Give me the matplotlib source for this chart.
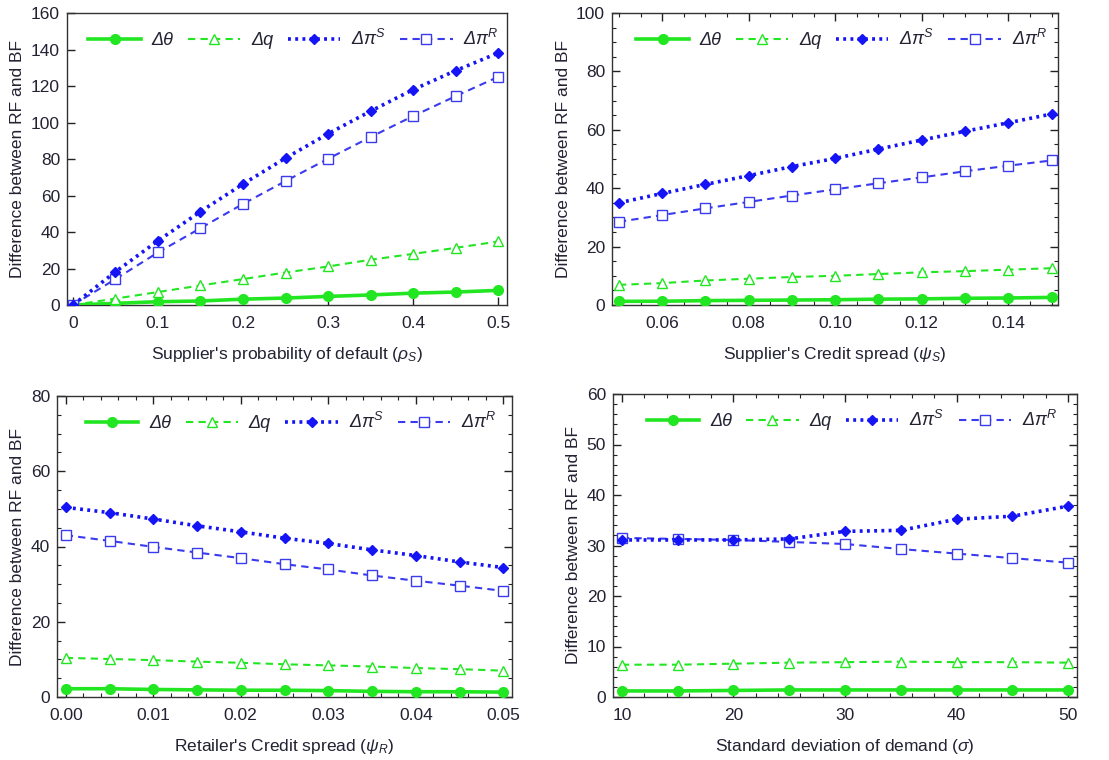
import matplotlib
matplotlib.use('Agg')
import matplotlib.pyplot as plt
from matplotlib.ticker import MultipleLocator, FormatStrFormatter
import numpy as np

plt.rcParams['font.family'] = ['Liberation Sans', 'DejaVu Sans']
plt.rcParams['mathtext.fontset'] = 'custom'
plt.rcParams['mathtext.rm'] = 'Liberation Sans'
plt.rcParams['mathtext.it'] = 'Liberation Sans:italic'
plt.rcParams['mathtext.bf'] = 'Liberation Sans:bold'

# Data
rho_s = [0, 0.05, 0.1, 0.15, 0.2, 0.25, 0.3, 0.35, 0.4, 0.45, 0.5]
p1_theta = [0, 0.9, 1.8, 2.2, 3.2, 3.8, 4.7, 5.5, 6.5, 7.1, 8.0]
p1_q = [0, 3.5, 7.1, 10.7, 14.2, 17.8, 21.1, 24.8, 28.0, 31.3, 34.8]
p1_pis = [0, 18.2, 35.2, 51.2, 66.3, 80.5, 93.8, 106.2, 118.0, 128.4, 138.1]
p1_pir = [0, 14.2, 28.8, 42.1, 55.4, 67.9, 80.1, 92.0, 103.5, 114.4, 125.0]

psi_s = [0.05, 0.06, 0.07, 0.08, 0.09, 0.10, 0.11, 0.12, 0.13, 0.14, 0.15]
p2_theta = [1.25, 1.3, 1.5, 1.6, 1.7, 1.8, 2.0, 2.1, 2.3, 2.4, 2.6]
p2_q = [6.9, 7.5, 8.4, 9.0, 9.6, 10.0, 10.6, 11.2, 11.6, 12.1, 12.6]
p2_pis = [35.0, 38.2, 41.3, 44.3, 47.4, 50.2, 53.4, 56.5, 59.5, 62.4, 65.4]
p2_pir = [28.5, 30.8, 33.1, 35.3, 37.5, 39.6, 41.7, 43.7, 45.8, 47.7, 49.5]

psi_r = [0, 0.005, 0.01, 0.015, 0.02, 0.025, 0.03, 0.035, 0.04, 0.045, 0.05]
p3_theta = [2.2, 2.2, 2.0, 1.9, 1.8, 1.8, 1.7, 1.5, 1.4, 1.4, 1.3]
p3_q = [10.4, 10.1, 9.8, 9.4, 9.1, 8.7, 8.4, 8.1, 7.7, 7.4, 7.0]
p3_pis = [50.4, 49.0, 47.3, 45.5, 43.9, 42.2, 40.8, 39.1, 37.6, 35.9, 34.4]
p3_pir = [43.0, 41.5, 39.9, 38.4, 36.9, 35.3, 33.9, 32.3, 30.9, 29.6, 28.2]

sigma = [10, 15, 20, 25, 30, 35, 40, 45, 50]
p4_theta = [1.2, 1.2, 1.3, 1.4, 1.4, 1.4, 1.4, 1.4, 1.4]
p4_q = [6.4, 6.4, 6.6, 6.8, 6.9, 7.0, 6.9, 6.9, 6.8]
p4_pis = [31.1, 31.1, 31.1, 31.3, 32.8, 33.0, 35.2, 35.8, 37.8]
p4_pir = [31.5, 31.3, 31.1, 30.7, 30.3, 29.3, 28.4, 27.5, 26.6]

# plain text part is set italic through the legend font; superscripts via mathtext
labels = ['Δθ', 'Δq', r'Δπ$^{\mathit{S}}$', r'Δπ$^{\mathit{R}}$']

green = '#22e622'
blue_s = '#1414f5'
blue_r = '#3a3aee'
text_col = '#222233'

W, H = 1109, 760


def px_axes(fig, l, t, r, b):
    return fig.add_axes([l / W, 1 - b / H, (r - l) / W, (b - t) / H])


def draw_panel(ax, x, theta, q, pis, pir):
    ax.plot(x, theta, color=green, lw=2.6, marker='o', ms=7, label=labels[0], zorder=3)
    ax.plot(x, q, color=green, lw=1.5, dashes=(3.5, 2.5), marker='^', ms=7,
            mfc='white', mec=green, mew=1.0, label=labels[1], zorder=3)
    ax.plot(x, pis, color=blue_s, lw=2.6, linestyle=(0, (0.8, 1.2)), marker='D', ms=5.5,
            label=labels[2], zorder=4)
    ax.plot(x, pir, color=blue_r, lw=1.5, dashes=(3.5, 2.5), marker='s', ms=6.5,
            mfc='white', mec=blue_r, mew=1.0, label=labels[3], zorder=3)
    ax.legend(loc='upper center', bbox_to_anchor=(0.515, 1.0), ncol=4, frameon=False,
              prop={'size': 13, 'style': 'italic'}, handlelength=2.9,
              columnspacing=0.8, handletextpad=0.6, labelcolor=text_col)
    ax.set_ylabel('Difference between RF and BF', fontsize=12.5, color=text_col, labelpad=4)
    for s in ax.spines.values():
        s.set_color('#333333')
        s.set_linewidth(1.0)


def frame_ticks(ax, xmaj, xmin, ymaj, ymin):
    ax.xaxis.set_major_locator(MultipleLocator(xmaj))
    ax.xaxis.set_minor_locator(MultipleLocator(xmin))
    ax.yaxis.set_major_locator(MultipleLocator(ymaj))
    ax.yaxis.set_minor_locator(MultipleLocator(ymin))
    ax.tick_params(which='both', direction='in', top=True, right=True, colors='#222222',
                   labelcolor=text_col, labelsize=12.5, pad=5)
    ax.tick_params(axis='x', which='both', pad=8)
    ax.tick_params(which='major', length=6, width=1.0)
    ax.tick_params(which='minor', length=3, width=0.8)


fig = plt.figure(figsize=(W / 100, H / 100), dpi=100)

# Panel 1
ax1 = px_axes(fig, 67, 13, 507, 305)
draw_panel(ax1, rho_s, p1_theta, p1_q, p1_pis, p1_pir)
ax1.set_xlim(-0.007, 0.5105)
ax1.set_ylim(0, 160)
ax1.set_xticks([0, 0.1, 0.2, 0.3, 0.4, 0.5])
ax1.set_xticklabels(['0', '0.1', '0.2', '0.3', '0.4', '0.5'])
ax1.yaxis.set_major_locator(MultipleLocator(20))
ax1.tick_params(direction='in', length=6, width=1.0, colors='#222222',
                labelcolor=text_col, labelsize=12.5, pad=5)
ax1.tick_params(axis='x', pad=8)
ax1.set_xlabel(r"Supplier's probability of default ($\mathit{ρ_S}$)", fontsize=12.5,
               color=text_col, labelpad=10)

# Panel 2
ax2 = px_axes(fig, 612, 13, 1058, 305)
draw_panel(ax2, psi_s, p2_theta, p2_q, p2_pis, p2_pir)
ax2.set_xlim(0.0484, 0.1515)
ax2.set_ylim(0, 100)
frame_ticks(ax2, 0.02, 0.005, 20, 5)
ax2.xaxis.set_major_formatter(FormatStrFormatter('%.2f'))
ax2.set_xlabel(r"Supplier's Credit spread ($\mathit{ψ_S}$)", fontsize=12.5,
               color=text_col, labelpad=10)

# Panel 3
ax3 = px_axes(fig, 57, 396, 512, 697)
draw_panel(ax3, psi_r, p3_theta, p3_q, p3_pis, p3_pir)
ax3.set_xlim(-0.001, 0.051)
ax3.set_ylim(0, 80)
frame_ticks(ax3, 0.01, 0.002, 20, 5)
ax3.xaxis.set_major_formatter(FormatStrFormatter('%.2f'))
ax3.set_xlabel(r"Retailer's Credit spread ($\mathit{ψ_R}$)", fontsize=12.5,
               color=text_col, labelpad=10)

# Panel 4
ax4 = px_axes(fig, 613, 394, 1077, 697)
draw_panel(ax4, sigma, p4_theta, p4_q, p4_pis, p4_pir)
ax4.set_xlim(9.2, 50.8)
ax4.set_ylim(0, 60)
frame_ticks(ax4, 10, 2, 10, 2)
ax4.set_xlabel(r"Standard deviation of demand ($\mathit{σ}$)", fontsize=12.5,
               color=text_col, labelpad=10)

fig.savefig('out.png', dpi=100)
